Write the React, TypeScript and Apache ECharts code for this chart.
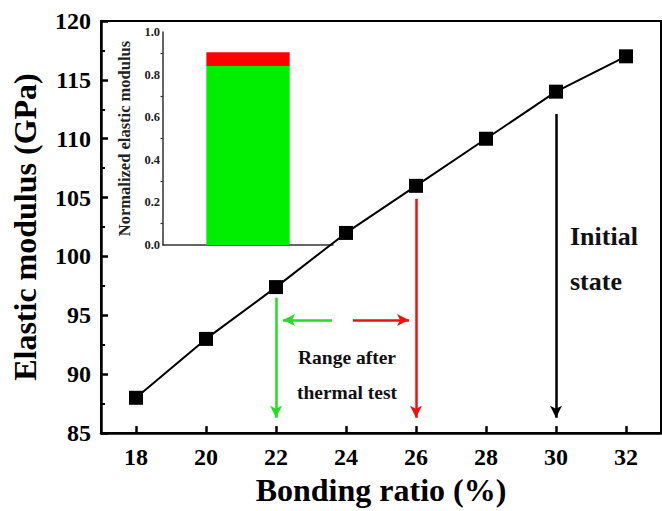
import React, { useEffect, useRef } from "react";
import * as echarts from "echarts";

const bondingRatio = [18, 20, 22, 24, 26, 28, 30, 32];
const modulus = [88, 93, 97.4, 102, 106, 110, 114, 117];
const xTicks = [18, 20, 22, 24, 26, 28, 30, 32];

const insetCategory = ["sample"];
const insetGreen = [0.84];
const insetRed = [0.065];

// arrows in data coordinates
const arrowStarts = [
  [22, 96.5],
  [26, 104.9],
  [30, 112.1],
  [23.6, 94.6],
  [24.2, 94.6],
];
const arrowEnds = [
  [22, 86.3],
  [26, 86.3],
  [30, 86.3],
  [22.2, 94.6],
  [25.8, 94.6],
];
const arrowColors = ["#22dd22", "#ee1111", "#000000", "#22dd22", "#ee1111"];

const FONT = "Liberation Serif";

export default function App() {
  const ref = useRef<HTMLDivElement>(null);
  useEffect(() => {
    if (!ref.current) return;
    const chart = echarts.init(ref.current, null, { renderer: "svg" });
    const arrowData = arrowStarts.map((s, i) => [
      { coord: s, lineStyle: { color: arrowColors[i] } },
      { coord: arrowEnds[i] },
    ]);
    chart.setOption({
      animation: false,
      backgroundColor: "#ffffff",
      textStyle: { fontFamily: FONT },
      grid: [
        {
          left: 101,
          right: 1,
          top: 21,
          bottom: 74,
          show: true,
          borderColor: "#000",
          borderWidth: 2,
          z: 0,
        },
        { left: 163, top: 32, width: 170, height: 213, show: false },
      ],
      xAxis: [
        {
          type: "value",
          gridIndex: 0,
          min: 17,
          max: 33,
          splitLine: { show: false },
          axisLine: { lineStyle: { color: "#000", width: 2.5 } },
          axisTick: {
            inside: true,
            length: 7,
            customValues: xTicks,
            lineStyle: { color: "#000", width: 2.5 },
          },
          axisLabel: {
            customValues: xTicks,
            margin: 12,
            color: "#000",
            fontSize: 24,
            fontWeight: "bold",
            fontFamily: FONT,
          },
          name: "Bonding ratio (%)",
          nameLocation: "middle",
          nameGap: 39,
          nameTextStyle: {
            color: "#000",
            fontSize: 32,
            fontWeight: "bold",
            fontFamily: FONT,
          },
        },
        {
          type: "category",
          gridIndex: 1,
          data: insetCategory,
          axisLine: { lineStyle: { color: "#333", width: 1.5 } },
          axisTick: { show: false },
          axisLabel: { show: false },
        },
      ],
      yAxis: [
        {
          type: "value",
          gridIndex: 0,
          min: 85,
          max: 120,
          interval: 5,
          splitLine: { show: false },
          axisLine: { lineStyle: { color: "#000", width: 2.5 } },
          axisTick: { inside: true, length: 7, lineStyle: { color: "#000", width: 2.5 } },
          minorTick: {
            show: true,
            splitNumber: 2,
            length: 4,
            lineStyle: { color: "#000", width: 2 },
          },
          axisLabel: {
            margin: 10,
            color: "#000",
            fontSize: 24,
            fontWeight: "bold",
            fontFamily: FONT,
          },
          name: "Elastic modulus (GPa)",
          nameLocation: "middle",
          nameGap: 60,
          nameTextStyle: {
            color: "#000",
            fontSize: 32,
            fontWeight: "bold",
            fontFamily: FONT,
          },
        },
        {
          type: "value",
          gridIndex: 1,
          min: 0,
          max: 1,
          interval: 0.2,
          splitLine: { show: false },
          axisLine: { show: true, lineStyle: { color: "#333", width: 1.5 } },
          axisTick: { length: 4, lineStyle: { color: "#333", width: 1.2 } },
          minorTick: {
            show: true,
            splitNumber: 2,
            length: 2.5,
            lineStyle: { color: "#333", width: 1.2 },
          },
          axisLabel: {
            margin: 3,
            color: "#222",
            fontSize: 12.5,
            fontWeight: "bold",
            fontFamily: FONT,
            formatter: (v: number) => v.toFixed(1),
          },
          name: "Normalized elastic modulus",
          nameLocation: "middle",
          nameGap: 30,
          nameTextStyle: {
            color: "#222",
            fontSize: 16.5,
            fontWeight: "bold",
            fontFamily: FONT,
          },
        },
      ],
      series: [
        {
          type: "bar",
          xAxisIndex: 1,
          yAxisIndex: 1,
          stack: "n",
          data: insetGreen,
          barWidth: "49%",
          itemStyle: { color: "#00ee00" },
          z: 1,
        },
        {
          type: "bar",
          xAxisIndex: 1,
          yAxisIndex: 1,
          stack: "n",
          data: insetRed,
          barWidth: "49%",
          itemStyle: { color: "#ff0000" },
          z: 1,
        },
        {
          type: "line",
          xAxisIndex: 0,
          yAxisIndex: 0,
          data: bondingRatio.map((x, i) => [x, modulus[i]]),
          symbol: "rect",
          symbolSize: 14,
          lineStyle: { color: "#000", width: 2 },
          itemStyle: { color: "#000" },
          z: 5,
          markLine: {
            silent: true,
            symbol: ["none", "arrow"],
            symbolSize: [9, 12],
            lineStyle: { type: "solid", width: 2.5 },
            label: { show: false },
            data: arrowData,
          },
        },
      ],
      graphic: [
        {
          type: "text",
          x: 347,
          y: 357,
          style: {
            text: "Range after",
            fontSize: 19.5,
            fontWeight: "bold",
            fontFamily: FONT,
            fill: "#111",
            align: "center",
            verticalAlign: "middle",
          },
        },
        {
          type: "text",
          x: 347,
          y: 392,
          style: {
            text: "thermal test",
            fontSize: 19.5,
            fontWeight: "bold",
            fontFamily: FONT,
            fill: "#111",
            align: "center",
            verticalAlign: "middle",
          },
        },
        {
          type: "text",
          x: 570,
          y: 236,
          style: {
            text: "Initial",
            fontSize: 26,
            fontWeight: "bold",
            fontFamily: FONT,
            fill: "#111",
            align: "left",
            verticalAlign: "middle",
          },
        },
        {
          type: "text",
          x: 570,
          y: 281,
          style: {
            text: "state",
            fontSize: 26,
            fontWeight: "bold",
            fontFamily: FONT,
            fill: "#111",
            align: "left",
            verticalAlign: "middle",
          },
        },
      ],
    });
    return () => chart.dispose();
  }, []);
  return <div ref={ref} style={{ width: 662, height: 511, position: "absolute", left: 0, top: 0 }} />;
}
